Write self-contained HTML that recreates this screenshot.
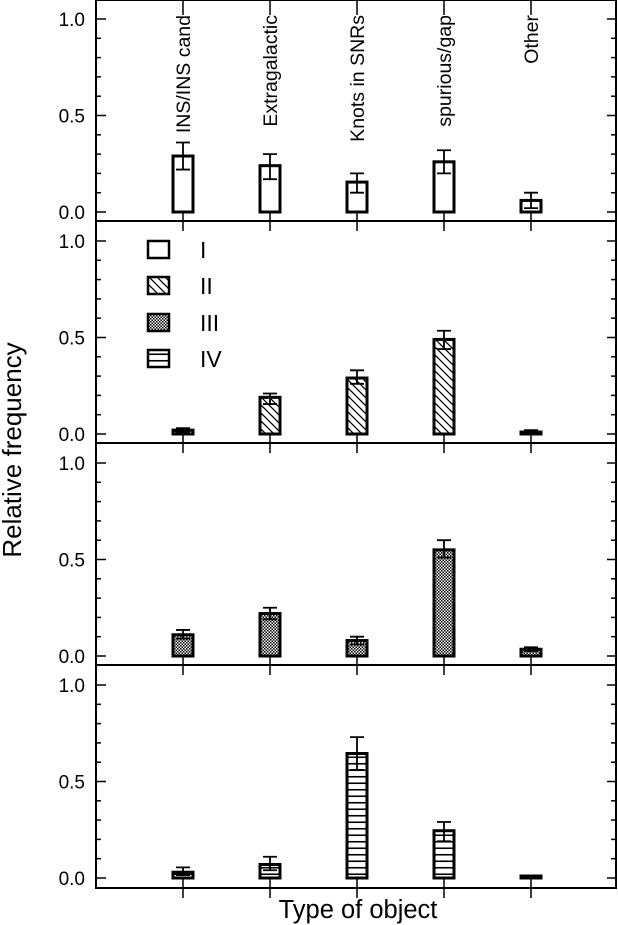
<!DOCTYPE html>
<html><head><meta charset="utf-8"><style>
html,body{margin:0;padding:0;background:#fff;}
svg{display:block;font-family:"Liberation Sans",sans-serif;}
</style></head><body>
<svg id="chart" width="618" height="925" viewBox="0 0 618 925" xmlns="http://www.w3.org/2000/svg">
<defs>
<pattern id="pat-hatch" patternUnits="userSpaceOnUse" width="8" height="8">
<path d="M-2,-2 L10,10 M-2,6 L2,10 M6,-2 L10,2" stroke="#000" stroke-width="1.3"/>
</pattern>
<pattern id="pat-check" patternUnits="userSpaceOnUse" width="3" height="3">
<rect width="3" height="3" fill="#fff"/><rect width="1.5" height="1.5" fill="#000"/><rect x="1.5" y="1.5" width="1.5" height="1.5" fill="#000"/>
</pattern>
<pattern id="pat-horiz" patternUnits="userSpaceOnUse" width="8" height="6.5">
<line x1="0" y1="3.25" x2="8" y2="3.25" stroke="#000" stroke-width="1.6"/>
</pattern>
</defs>
<g id="plot"></g>
</svg>
<script>
const categories = ["INS/INS cand","Extragalactic","Knots in SNRs","spurious/gap","Other"];
const groups = ["I","II","III","IV"];
const valuesI   = [0.29,0.24,0.155,0.26,0.06];
const errLoI    = [0.22,0.17,0.10,0.20,0.02];
const errHiI    = [0.36,0.30,0.20,0.32,0.10];
const valuesII  = [0.02,0.19,0.29,0.49,0.01];
const errLoII   = [0.01,0.155,0.26,0.44,0.005];
const errHiII   = [0.03,0.21,0.33,0.535,0.02];
const valuesIII = [0.11,0.22,0.08,0.55,0.035];
const errLoIII  = [0.09,0.19,0.06,0.51,0.025];
const errHiIII  = [0.135,0.25,0.10,0.60,0.045];
const valuesIV  = [0.03,0.07,0.645,0.245,0.005];
const errLoIV   = [0.015,0.04,0.56,0.19,0.0];
const errHiIV   = [0.055,0.11,0.73,0.29,0.005];
const yTickLabels = ["0.0","0.5","1.0"];
const yTickValues = [0,0.5,1.0];

const NS="http://www.w3.org/2000/svg";
const g=document.getElementById('plot');
const X0=96,X1=616;
const panelTop=[0,221,443,665], panelBot=[221,443,665,888], zeroY=[212,434,656,878];
const scale=193;
const xPos=i=>183+i*87;
function yFn(p){return v=>zeroY[p]-v*scale;}
const fills=["#fff","url(#pat-hatch)","url(#pat-check)","url(#pat-horiz)"];
const series=[[valuesI,errLoI,errHiI],[valuesII,errLoII,errHiII],[valuesIII,errLoIII,errHiIII],[valuesIV,errLoIV,errHiIV]];
function el(t,a,parent){const e=document.createElementNS(NS,t);for(const k in a)e.setAttribute(k,a[k]);(parent||g).appendChild(e);return e;}

for(let p=0;p<4;p++){
  const y=yFn(p);
  const pg=el('g',{});
  
  
  const fr=el('rect',{x:X0,y:panelTop[p],width:X1-X0,height:panelBot[p]-panelTop[p],fill:'none',stroke:'#000','stroke-width':2},pg);
  
  
  for(let k=0;k<=10;k++){
    const v=k/10, yy=y(v), major=(k%5===0);
    el('line',{x1:X0,y1:yy,x2:X0+(major?10:5),y2:yy,stroke:'#000','stroke-width':1.5},pg);
    el('line',{x1:X1,y1:yy,x2:X1-(major?9:5),y2:yy,stroke:'#000','stroke-width':1.5},pg);
  }
  yTickValues.forEach((v,i)=>{
    const t=el('text',{x:X0-11,y:y(v)+7,'text-anchor':'end','font-size':19},pg);
    t.textContent=yTickLabels[i];
    
    
  });
  const [vals,lo,hi]=series[p];
  categories.forEach((c,i)=>{
    const x=xPos(i);
    el('line',{x1:x,y1:y(0),x2:x,y2:panelBot[p]+10,stroke:'#000','stroke-width':1.5},pg);
    const h=Math.max(vals[i]*scale,2);
    const b=el('rect',{x:x-10,y:y(0)-h,width:20,height:h,fill:fills[p],stroke:'#000','stroke-width':3},pg);
    
    
    const eg=el('path',{d:`M${x},${y(lo[i])} V${y(hi[i])} M${x-7},${y(hi[i])} H${x+7} M${x-7},${y(lo[i])} H${x+7}`,stroke:'#000','stroke-width':1.8,fill:'none'},pg);
    
    
  });
}
categories.forEach((c,i)=>{
  const x=xPos(i);
  el('line',{x1:x,y1:0,x2:x,y2:15,stroke:'#000','stroke-width':1.5});
  const t=el('text',{x:0,y:0,'text-anchor':'end','font-size':19.5,transform:`translate(${x+7},15) rotate(-90)`});
  t.textContent=c;
  
  
});
const lg=el('g',{});


const legY=[241,277,314,350];
groups.forEach((gname,i)=>{
  const r=el('rect',{x:148,y:legY[i],width:21,height:17,fill:fills[i],stroke:'#000','stroke-width':2.5},lg);
  
  
  const t=el('text',{x:200,y:legY[i]+17,'font-size':23},lg);
  t.textContent=gname;
  
  
});
const yt=el('text',{x:0,y:0,'text-anchor':'middle','font-size':26,transform:'translate(21,450) rotate(-90)'});
yt.textContent='Relative frequency';


const xt=el('text',{x:358,y:918,'text-anchor':'middle','font-size':25.5});
xt.textContent='Type of object';


</script>
</body></html>
